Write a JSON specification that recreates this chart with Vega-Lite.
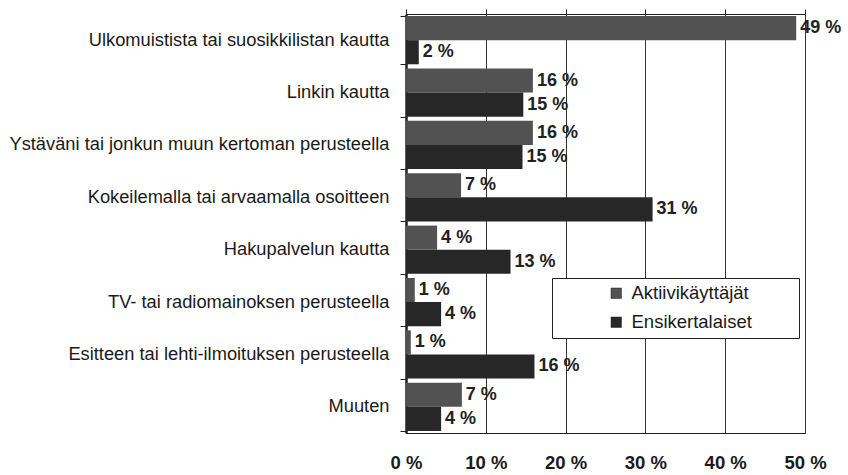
{
  "$schema": "https://vega.github.io/schema/vega-lite/v6.json",
  "width": 399,
  "height": 419,
  "autosize": {"type": "none"},
  "padding": {"left": 406, "top": 14, "right": 43, "bottom": 42},
  "background": "white",
  "config": {
    "font": "Liberation Sans",
    "view": {"stroke": "#222", "strokeWidth": 1}
  },
  "data": {
    "values": [
      {"kategoria": "Ulkomuistista tai suosikkilistan kautta", "ryhmä": "Aktiivikäyttäjät", "arvo": 48.9, "teksti": "49 %"},
      {"kategoria": "Ulkomuistista tai suosikkilistan kautta", "ryhmä": "Ensikertalaiset", "arvo": 1.6, "teksti": "2 %"},
      {"kategoria": "Linkin kautta", "ryhmä": "Aktiivikäyttäjät", "arvo": 15.9, "teksti": "16 %"},
      {"kategoria": "Linkin kautta", "ryhmä": "Ensikertalaiset", "arvo": 14.7, "teksti": "15 %"},
      {"kategoria": "Ystäväni tai jonkun muun kertoman perusteella", "ryhmä": "Aktiivikäyttäjät", "arvo": 15.9, "teksti": "16 %"},
      {"kategoria": "Ystäväni tai jonkun muun kertoman perusteella", "ryhmä": "Ensikertalaiset", "arvo": 14.6, "teksti": "15 %"},
      {"kategoria": "Kokeilemalla tai arvaamalla osoitteen", "ryhmä": "Aktiivikäyttäjät", "arvo": 6.9, "teksti": "7 %"},
      {"kategoria": "Kokeilemalla tai arvaamalla osoitteen", "ryhmä": "Ensikertalaiset", "arvo": 30.9, "teksti": "31 %"},
      {"kategoria": "Hakupalvelun kautta", "ryhmä": "Aktiivikäyttäjät", "arvo": 3.9, "teksti": "4 %"},
      {"kategoria": "Hakupalvelun kautta", "ryhmä": "Ensikertalaiset", "arvo": 13.1, "teksti": "13 %"},
      {"kategoria": "TV- tai radiomainoksen perusteella", "ryhmä": "Aktiivikäyttäjät", "arvo": 1.1, "teksti": "1 %"},
      {"kategoria": "TV- tai radiomainoksen perusteella", "ryhmä": "Ensikertalaiset", "arvo": 4.4, "teksti": "4 %"},
      {"kategoria": "Esitteen tai lehti-ilmoituksen perusteella", "ryhmä": "Aktiivikäyttäjät", "arvo": 0.6, "teksti": "1 %"},
      {"kategoria": "Esitteen tai lehti-ilmoituksen perusteella", "ryhmä": "Ensikertalaiset", "arvo": 16.1, "teksti": "16 %"},
      {"kategoria": "Muuten", "ryhmä": "Aktiivikäyttäjät", "arvo": 7.0, "teksti": "7 %"},
      {"kategoria": "Muuten", "ryhmä": "Ensikertalaiset", "arvo": 4.4, "teksti": "4 %"}
    ]
  },
  "encoding": {
    "y": {
      "field": "kategoria",
      "type": "nominal",
      "sort": null,
      "scale": {"paddingInner": 0.08, "paddingOuter": 0.04},
      "axis": {
        "title": null,
        "tickBand": "extent",
        "tickSize": 6,
        "tickColor": "#222",
        "domainColor": "#222",
        "domainWidth": 2.5,
        "labelPadding": 11,
        "labelFontSize": 18.3,
        "labelColor": "#1a1a1a",
        "labelLimit": 420
      }
    },
    "yOffset": {"field": "ryhmä", "type": "nominal", "sort": ["Aktiivikäyttäjät", "Ensikertalaiset"], "scale": {"paddingInner": 0}}
  },
  "layer": [
    {
      "mark": {"type": "bar"},
      "encoding": {
        "x": {
          "field": "arvo",
          "type": "quantitative",
          "scale": {"domain": [0, 50], "nice": false},
          "axis": {
            "title": null,
            "orient": "bottom",
            "values": [0, 10, 20, 30, 40, 50],
            "labelExpr": "datum.value + ' %'",
            "labelFontSize": 18.5,
            "labelFontWeight": "bold",
            "labelColor": "#1a1a1a",
            "labelPadding": 20,
            "labelFlush": false,
            "labelOverlap": false,
            "ticks": false,
            "domain": true,
            "domainColor": "#222",
            "grid": true,
            "gridColor": "#333",
            "gridWidth": 1,
            "gridOpacity": 1
          }
        },
        "color": {
          "field": "ryhmä",
          "type": "nominal",
          "sort": ["Aktiivikäyttäjät", "Ensikertalaiset"],
          "scale": {"range": ["#525252", "#272727"]},
          "legend": {
            "title": null,
            "orient": "none",
            "legendX": 146,
            "legendY": 264,
            "direction": "vertical",
            "symbolType": "square",
            "symbolSize": 110,
            "symbolStrokeColor": "#222",
            "symbolStrokeWidth": 0.5,
            "symbolOffset": 49,
            "labelOffset": 6,
            "labelFontSize": 18.5,
            "labelColor": "#1a1a1a",
            "labelLimit": 400,
            "labelExpr": "datum.label + '\u00a0\u00a0\u00a0\u00a0\u00a0\u00a0\u00a0\u00a0\u200b'",
            "rowPadding": 10,
            "strokeColor": "#222",
            "fillColor": "white",
            "padding": 6,
            "offset": 0
          }
        }
      }
    },
    {
      "mark": {"type": "text", "align": "left", "baseline": "middle", "dx": 4, "fontSize": 18, "fontWeight": "bold", "color": "#222"},
      "encoding": {
        "x": {
          "field": "arvo",
          "type": "quantitative",
          "scale": {"domain": [0, 50], "nice": false},
          "axis": {
            "title": null,
            "orient": "top",
            "values": [0, 10, 20, 30, 40, 50],
            "labels": false,
            "ticks": true,
            "tickSize": 5,
            "tickColor": "#222",
            "domain": false,
            "grid": false
          }
        },
        "text": {"field": "teksti"}
      }
    }
  ],
  "resolve": {"axis": {"x": "independent"}}
}
